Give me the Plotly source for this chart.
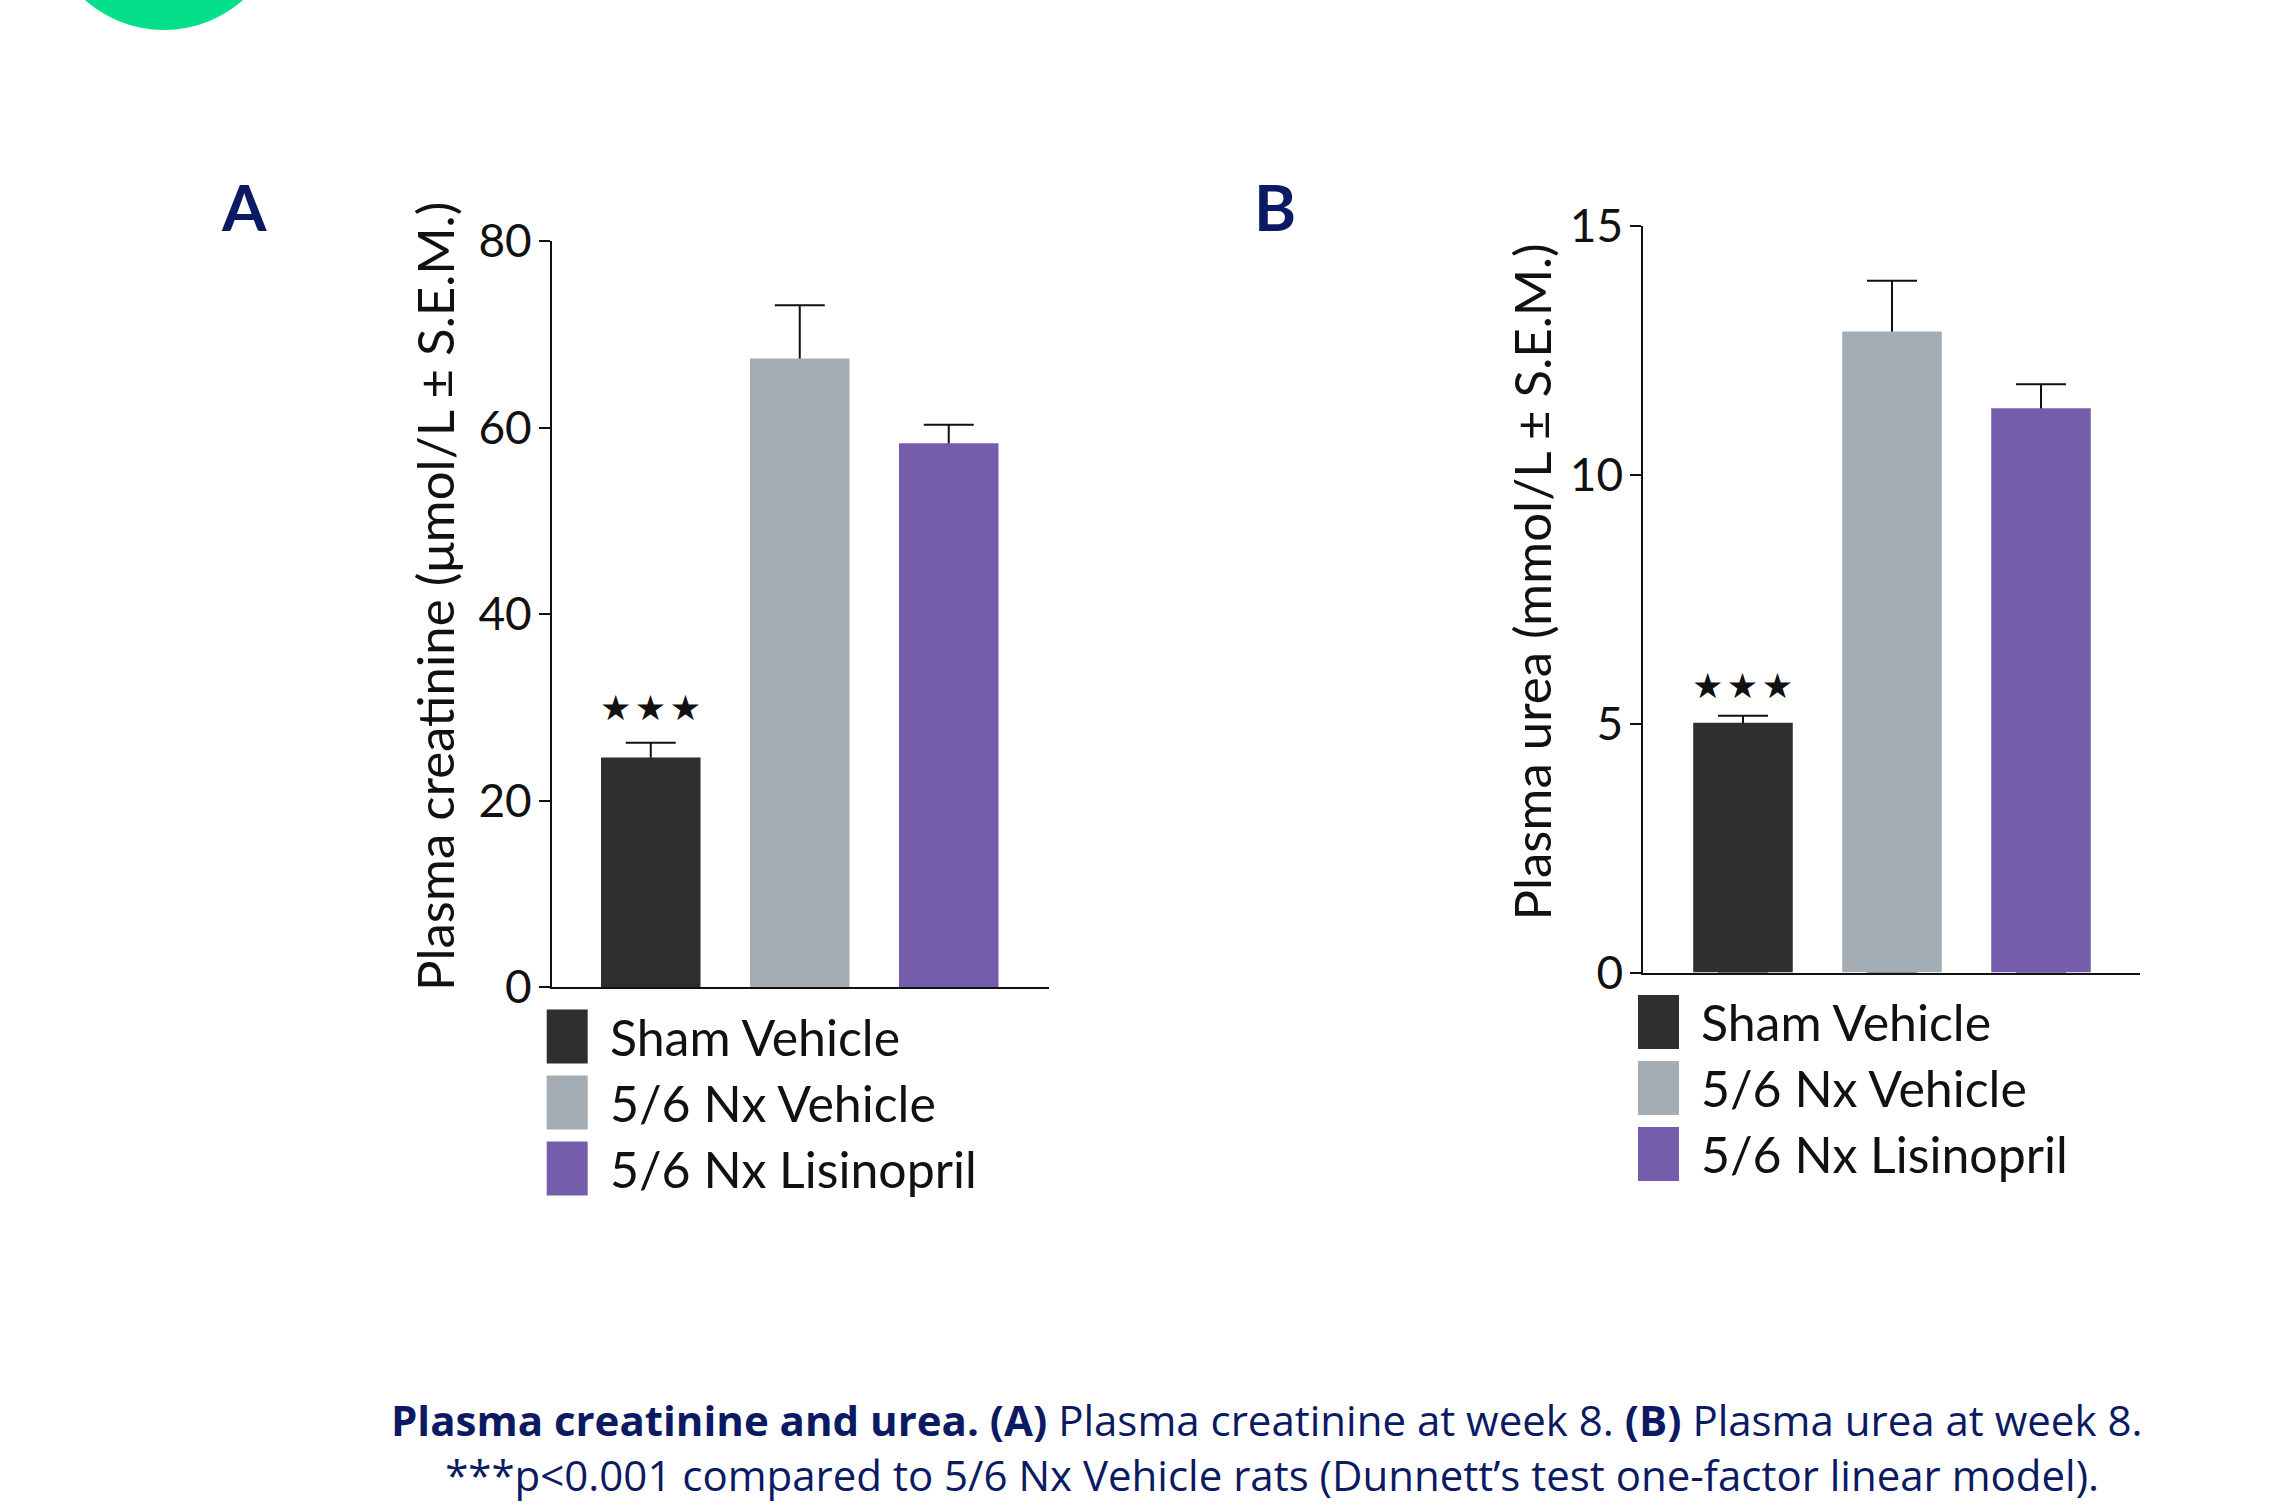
import plotly.graph_objects as go

# ---------------- data ----------------
groups = ["Sham Vehicle", "5/6 Nx Vehicle", "5/6 Nx Lisinopril"]
creatinine_mean = [24.6, 67.4, 58.3]
creatinine_sem = [1.6, 5.7, 2.0]
urea_mean = [5.02, 12.88, 11.34]
urea_sem = [0.14, 1.02, 0.48]
creatinine_ticks = [0, 20, 40, 60, 80]
urea_ticks = [0, 5, 10, 15]
significance = ["★\u200a★\u200a★", "", ""]
bar_colors = ["#2f2f2f", "#a4adb3", "#745eab"]

creatinine_title = "Plasma creatinine (μmol/L ± S.E.M.)"
urea_title = "Plasma urea (mmol/L ± S.E.M.)"
caption = ("<b>Plasma creatinine and urea. (A)</b> Plasma creatinine at week 8. "
           "<b>(B)</b> Plasma urea at week 8.<br>"
           " ***p&lt;0.001 compared to 5/6 Nx Vehicle rats "
           "(Dunnett’s test one-factor linear model).")

# ---------------- layout helpers ----------------
W, H = 2279, 1507
NAVY = "#0b1a63"
FONT = "Lato"


def fx(px):
    return px / W


def fy(py):
    return 1 - py / H


fig = go.Figure()

panels = [
    dict(mean=creatinine_mean, sem=creatinine_sem, ticks=creatinine_ticks,
         title=creatinine_title, xa="x", ya="y", yo="y3",
         xpx=(552, 1049), ypx=(987, 241), yrange=[0, 80], xrange=[-0.663, 2.673],
         title_x=434, title_y=596, star_shift=13, label="A", label_x=243.5),
    dict(mean=urea_mean, sem=urea_sem, ticks=urea_ticks,
         title=urea_title, xa="x2", ya="y2", yo="y4",
         xpx=(1643.3, 2139.5), ypx=(972.5, 226), yrange=[0, 15], xrange=[-0.669, 2.661],
         title_x=1531, title_y=582.5, star_shift=8, label="B", label_x=1274.6),
]

annotations = []
shapes = []

for i, p in enumerate(panels):
    # error bars (base subplot, drawn underneath the bars)
    fig.add_trace(go.Scatter(
        x=groups, y=p["mean"], xaxis=p["xa"], yaxis=p["ya"],
        mode="markers", marker=dict(size=1, opacity=0),
        error_y=dict(type="data", symmetric=False, array=p["sem"],
                     arrayminus=p["mean"], width=25, thickness=2, color="#111111"),
        showlegend=False, hoverinfo="skip"))
    # bars on an overlaying y axis so they sit above the error-bar stems
    fig.add_trace(go.Bar(
        x=groups, y=p["mean"], xaxis=p["xa"], yaxis=p["yo"],
        marker=dict(color=bar_colors, line=dict(width=0)), width=0.668,
        showlegend=False, hoverinfo="skip"))

    xdom = [fx(p["xpx"][0]), fx(p["xpx"][1])]
    ydom = [fy(p["ypx"][0]), fy(p["ypx"][1])]
    xname = "xaxis" if p["xa"] == "x" else "xaxis2"
    yname = "yaxis" if p["ya"] == "y" else "yaxis2"
    oname = "yaxis3" if p["yo"] == "y3" else "yaxis4"
    fig.update_layout(**{
        xname: dict(domain=xdom, anchor=p["ya"], type="category", range=p["xrange"],
                    showline=True, linecolor="#111111", linewidth=2,
                    showticklabels=False, ticks="", showgrid=False, zeroline=False,
                    automargin=False),
        yname: dict(domain=ydom, anchor=p["xa"], range=p["yrange"],
                    tickvals=p["ticks"], ticks="outside", ticklen=11, tickwidth=2,
                    tickcolor="#111111", showline=True, linecolor="#111111", linewidth=2,
                    showgrid=False, zeroline=False, ticklabelstandoff=-2,
                    automargin=False,
                    tickfont=dict(family=FONT, size=46, color="#111111")),
        oname: dict(overlaying=p["ya"], anchor=p["xa"], range=p["yrange"],
                    visible=False, showgrid=False, zeroline=False),
    })

    # significance stars
    for g, m, s, sig in zip(groups, p["mean"], p["sem"], significance):
        if sig:
            annotations.append(dict(
                x=g, y=m + s, xref=p["xa"], yref=p["ya"], text=sig,
                showarrow=False, yanchor="bottom", xanchor="center",
                yshift=p["star_shift"],
                font=dict(family="DejaVu Sans", size=35, color="#111111")))

    # y-axis title
    annotations.append(dict(
        x=fx(p["title_x"]), y=fy(p["title_y"]), xref="paper", yref="paper",
        text=p["title"], textangle=-90, showarrow=False,
        xanchor="center", yanchor="middle",
        font=dict(family=FONT, size=51, color="#111111")))

    # panel letter
    annotations.append(dict(
        x=fx(p["label_x"]), y=fy(206), xref="paper", yref="paper",
        text="<b>%s</b>" % p["label"], showarrow=False,
        xanchor="center", yanchor="middle",
        font=dict(family=FONT, size=64, color=NAVY)))

    # legend (large square swatches + labels)
    sw_x0 = p["xpx"][0] - 5.3
    top0 = p["ypx"][0] + 22.5
    for k, (g, c) in enumerate(zip(groups, bar_colors)):
        top = top0 + 66 * k
        shapes.append(dict(type="rect", xref="paper", yref="paper",
                           x0=fx(sw_x0), x1=fx(sw_x0 + 41),
                           y0=fy(top + 54), y1=fy(top),
                           fillcolor=c, line=dict(width=0)))
        annotations.append(dict(
            x=fx(sw_x0 + 61), y=fy(top + 27), xref="paper", yref="paper",
            text=g, showarrow=False, xanchor="left", yanchor="middle",
            font=dict(family=FONT, size=50, color="#111111")))

# decorative green circle (top-left)
shapes.append(dict(type="circle", xref="paper", yref="paper",
                   x0=fx(164 - 119), x1=fx(164 + 119), y0=fy(30), y1=fy(-208),
                   fillcolor="#03df8a", line=dict(width=0), layer="below"))

# caption
annotations.append(dict(x=fx(1266), y=fy(1447), xref="paper", yref="paper",
                        text=caption, showarrow=False, align="center",
                        xanchor="center", yanchor="middle",
                        font=dict(family="Open Sans", size=42, color=NAVY)))

fig.update_layout(
    width=W, height=H,
    margin=dict(l=0, r=0, t=0, b=0, pad=0, autoexpand=False),
    paper_bgcolor="white", plot_bgcolor="rgba(0,0,0,0)",
    barmode="overlay", showlegend=False,
    annotations=annotations, shapes=shapes,
    font=dict(family=FONT, color="#111111"),
)

fig.write_html("out.html",
               config={"displayModeBar": False},
               post_script="document.body.style.margin='0';"
                           "document.body.style.overflow='hidden';")
